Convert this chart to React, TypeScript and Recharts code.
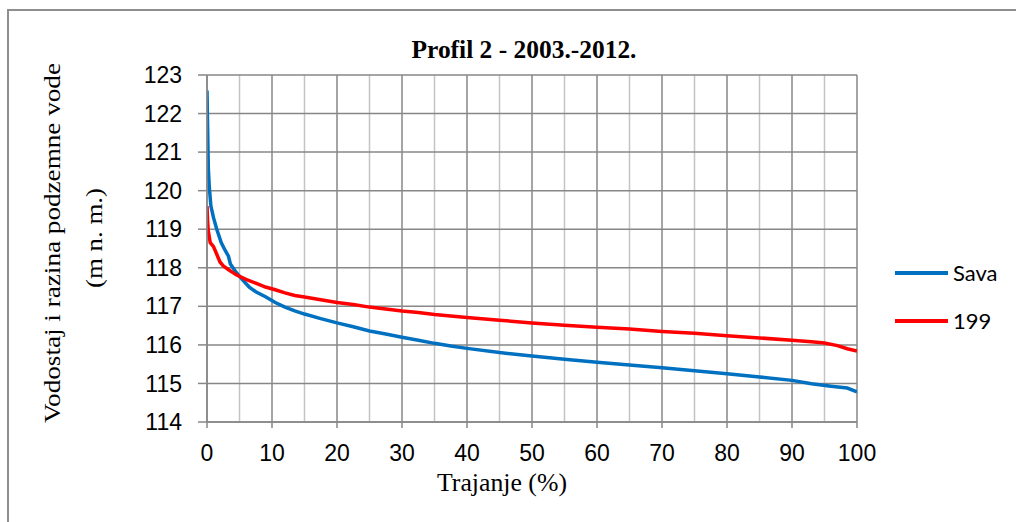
import React from 'react';
import { LineChart, Line, XAxis, YAxis, CartesianGrid } from 'recharts';

const titleText = 'Profil 2 - 2003.-2012.';
const xTitle = 'Trajanje (%)';
const yTitle1 = 'Vodostaj i razina podzemne vode';
const yTitle2 = '(m n. m.)';

const xTicks = [0, 10, 20, 30, 40, 50, 60, 70, 80, 90, 100];
const xMinorTicks = [5, 15, 25, 35, 45, 55, 65, 75, 85, 95];
const yTicks = [114, 115, 116, 117, 118, 119, 120, 121, 122, 123];

const savaName = 'Sava';
const savaX = [0, 0.1, 0.2, 0.35, 0.6, 1.0, 1.5, 2.2, 2.8, 3.3, 3.6, 4.5, 5.5, 6.5, 7.5, 9, 10.5, 12, 13.5, 15, 17.5, 20, 22.5, 25, 27.5, 30, 32.5, 35, 37.5, 40, 45, 50, 55, 60, 65, 70, 75, 80, 85, 90, 93, 96, 98.5, 100];
const savaY = [122.6, 121.6, 120.6, 120.1, 119.6, 119.3, 119.0, 118.65, 118.45, 118.3, 118.1, 117.88, 117.68, 117.5, 117.38, 117.25, 117.1, 116.98, 116.88, 116.8, 116.68, 116.57, 116.47, 116.36, 116.28, 116.2, 116.12, 116.04, 115.97, 115.91, 115.8, 115.71, 115.63, 115.55, 115.48, 115.41, 115.33, 115.25, 115.17, 115.08, 114.99, 114.93, 114.88, 114.78];

const redName = '199';
const redX = [0, 0.1, 0.2, 0.5, 1.0, 1.5, 2.0, 2.5, 3.5, 4.5, 6, 7.5, 9, 10.5, 12, 13.5, 15, 17.5, 20, 22.5, 25, 27.5, 30, 32.5, 35, 37.5, 40, 45, 50, 55, 60, 65, 70, 75, 80, 85, 90, 93, 95, 97, 98.5, 100];
const redY = [119.6, 119.2, 118.95, 118.65, 118.55, 118.35, 118.15, 118.05, 117.93, 117.82, 117.7, 117.6, 117.5, 117.43, 117.35, 117.28, 117.24, 117.17, 117.1, 117.05, 116.98, 116.93, 116.88, 116.84, 116.79, 116.75, 116.71, 116.64, 116.57, 116.51, 116.46, 116.41, 116.35, 116.3, 116.24, 116.18, 116.12, 116.08, 116.05, 115.98, 115.9, 115.84];

const savaData = savaX.map((x, i) => ({ x, v: savaY[i] }));
const redData = redX.map((x, i) => ({ x, v: redY[i] }));

const BLUE = '#0070C0';
const RED = '#FF0000';
const GRID_DARK = '#878787';
const GRID_LIGHT = '#c4c4c4';

const series = [
  { name: savaName, color: BLUE, data: savaData },
  { name: redName, color: RED, data: redData },
];

export default function App() {
  return (
    <div style={{ position: 'absolute', left: 0, top: 0, width: 1016, height: 522, background: '#fff', overflow: 'hidden' }}>
      <svg width={1016} height={522} style={{ position: 'absolute', left: 0, top: 0 }}>
        <rect x={8} y={10} width={1100} height={600} fill="none" stroke="#8e8e8e" strokeWidth={2} />
        <text x={524} y={58} textAnchor="middle" fontFamily="'Liberation Serif', 'Times New Roman', serif" fontWeight="bold" fontSize={25} textLength={225} lengthAdjust="spacingAndGlyphs">{titleText}</text>
        <text x={502} y={491} textAnchor="middle" fontFamily="'Liberation Serif', 'Times New Roman', serif" fontSize={25} textLength={130} lengthAdjust="spacingAndGlyphs">{xTitle}</text>
        <text x={60} y={243} transform="rotate(-90 60 243)" textAnchor="middle" fontFamily="'Liberation Serif', 'Times New Roman', serif" fontSize={24} textLength={360} lengthAdjust="spacingAndGlyphs">{yTitle1}</text>
        <text x={102} y={238} transform="rotate(-90 102 238)" textAnchor="middle" fontFamily="'Liberation Serif', 'Times New Roman', serif" fontSize={24} textLength={100} lengthAdjust="spacingAndGlyphs">{yTitle2}</text>
      </svg>
      <div style={{ position: 'absolute', left: 0, top: 0 }}>
        <LineChart width={1016} height={522} margin={{ top: 75, right: 159, left: 127, bottom: 60 }}>
          <CartesianGrid stroke={GRID_LIGHT} strokeWidth={1.5} horizontal={false} verticalValues={xMinorTicks} />
          <CartesianGrid stroke={GRID_DARK} strokeWidth={1.5} />
          <XAxis
            type="number"
            dataKey="x"
            domain={[0, 100]}
            ticks={xTicks}
            interval={0}
            height={40}
            allowDataOverflow
            axisLine={{ stroke: GRID_DARK, strokeWidth: 1.5 }}
            tickLine={{ stroke: GRID_DARK, strokeWidth: 1.5 }}
            tickSize={6}
            tickMargin={17}
            tick={{ fill: '#000', fontSize: 23, fontFamily: "'Liberation Sans', Arial, sans-serif" }}
          />
          <YAxis
            type="number"
            domain={[114, 123]}
            ticks={yTicks}
            interval={0}
            width={80}
            allowDataOverflow
            axisLine={{ stroke: GRID_DARK, strokeWidth: 1.5 }}
            tickLine={{ stroke: GRID_DARK, strokeWidth: 1.5 }}
            tickSize={9}
            tickMargin={16}
            tick={{ fill: '#000', fontSize: 23, fontFamily: "'Liberation Sans', Arial, sans-serif" }}
          />
          {series.map((s) => (
            <Line
              key={s.name}
              data={s.data}
              dataKey="v"
              name={s.name}
              type="linear"
              stroke={s.color}
              strokeWidth={3.5}
              dot={false}
              activeDot={false}
              isAnimationActive={false}
            />
          ))}
        </LineChart>
      </div>
      <div style={{ position: 'absolute', left: 895, top: 256, fontFamily: "Lato, 'Noto Sans', sans-serif", fontSize: 22, color: '#000' }}>
        {series.map((s) => (
          <div key={s.name} style={{ display: 'flex', alignItems: 'center', height: 33, marginBottom: 15 }}>
            <svg width={58} height={10}>
              <line x1={0} y1={5} x2={53} y2={5} stroke={s.color} strokeWidth={4} />
            </svg>
            <span style={{ lineHeight: '33px' }}>{s.name}</span>
          </div>
        ))}
      </div>
    </div>
  );
}
